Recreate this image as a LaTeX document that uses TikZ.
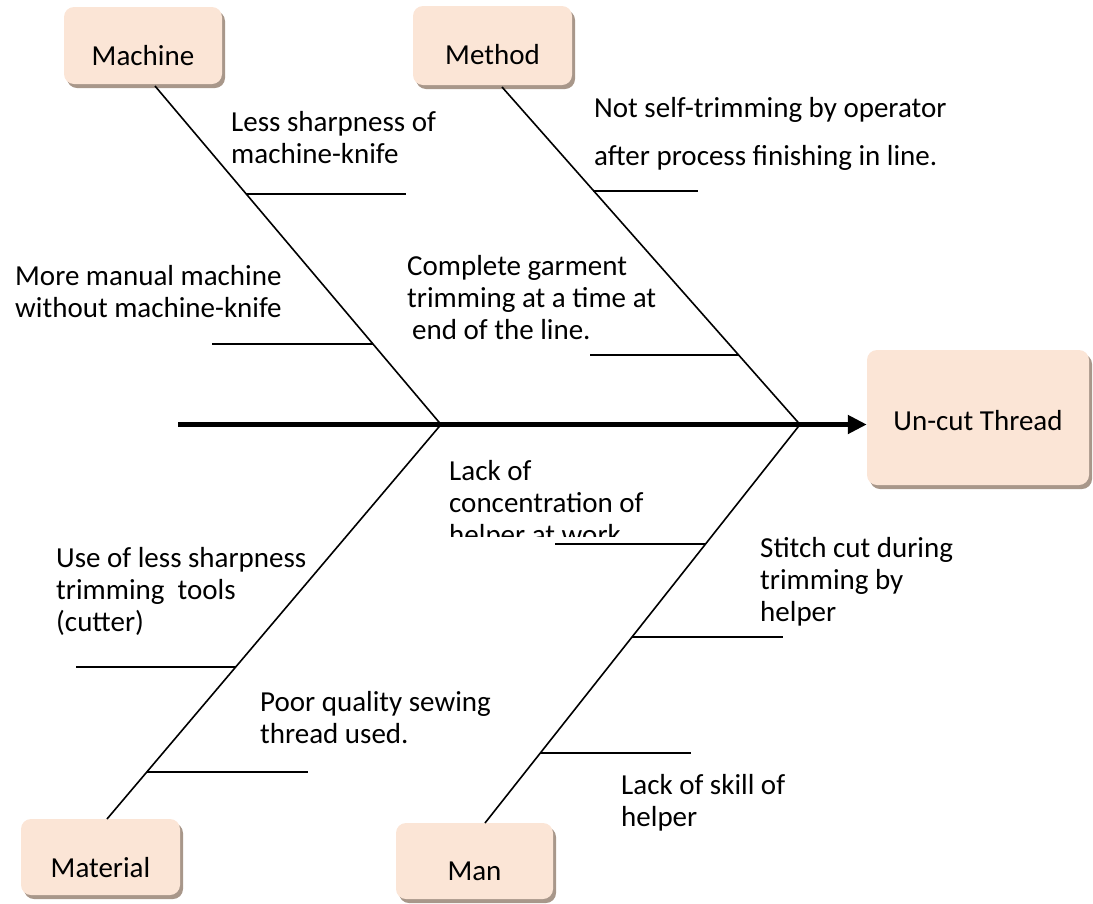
\documentclass[tikz,border=0pt]{standalone}
\usepackage{fontspec}
\setmainfont{Carlito}
\usetikzlibrary{arrows.meta,shadows}
\definecolor{boxfill}{HTML}{FBE5D6}
\definecolor{boxshade}{HTML}{A8978A}
% left-aligned multi-line cell whose baseline is the first line
\newcommand\cell[1]{\begin{tabular}[t]{@{}l@{}}#1\end{tabular}}

\begin{document}
\begin{tikzpicture}[x=1pt,y=-1pt,
  every node/.style={font=\fontsize{29}{32}\selectfont},
  catbox/.style={fill=boxfill, rounded corners=10pt, inner sep=0pt,
    drop shadow={shadow xshift=3pt, shadow yshift=-4pt, fill=boxshade, opacity=1}},
  bone/.style={line width=1.6pt},
  rib/.style={line width=1.8pt},
  cause/.style={anchor=base west, inner sep=0pt},
]
\useasboundingbox (0,0) rectangle (1093,903);

% category boxes and effect
\node[catbox, minimum width=158pt, minimum height=77pt, text height=40pt, text depth=1pt] (machine) at (143,45.5) {Machine};
\node[catbox, minimum width=159pt, minimum height=79pt, text height=38pt, text depth=1pt] (method) at (492.5,45.5) {Method};
\node[catbox, minimum width=159pt, minimum height=76pt, text height=41pt, text depth=1pt] (material) at (100.5,857) {Material};
\node[catbox, minimum width=157pt, minimum height=76pt, text height=39pt, text depth=1pt] (man) at (474.5,861) {Man};
\node[catbox, minimum width=222pt, minimum height=135pt, text height=26pt, text depth=1pt] (uncut) at (978,417.5) {Un-cut Thread};

% spine
\coordinate (tail) at (178,424.5);
\draw[line width=5pt, -{Triangle[length=19pt,width=18pt]}] (tail) -- (tail -| uncut.west);

% main bones
\coordinate (j1) at (441,424.5);
\coordinate (j2) at (800,424.5);
\coordinate (machtop) at (155,86);
\coordinate (methtop) at (502,87);
\coordinate (matbot) at (107,819);
\coordinate (manbot) at (485,823);
\draw[bone] (machtop) -- (j1);
\draw[bone] (methtop) -- (j2);
\draw[bone] (j1) -- (matbot);
\draw[bone] (j2) -- (manbot);

% ribs
\coordinate (ma1) at (246,194); \coordinate (ma1e) at (406,194);
\coordinate (ma2) at (373,344); \coordinate (ma2e) at (212,344);
\coordinate (me1) at (593,191); \coordinate (me1e) at (698,191);
\coordinate (me2) at (738,355); \coordinate (me2e) at (590,355);
\coordinate (mt1) at (236,667); \coordinate (mt1e) at (76,667);
\coordinate (mt2) at (147,772); \coordinate (mt2e) at (308,772);
\coordinate (mn1) at (706,544); \coordinate (mn1e) at (555,544);
\coordinate (mn2) at (632,637); \coordinate (mn2e) at (783,637);
\coordinate (mn3) at (540,753); \coordinate (mn3e) at (691,753);
\foreach \r in {ma1,ma2,me1,me2,mt1,mt2,mn1,mn2,mn3}
  \draw[rib] (\r) -- (\r e);

% causes
\node[cause] (c1) at (231,131) {\cell{Less sharpness of\\machine-knife}};
\node[cause] (c2) at (594,117) {\cell{Not self-trimming by operator\\[16pt]after process finishing in line.}};
\node[cause] (c3) at (15,285) {\cell{More manual machine\\without machine-knife}};
\node[cause] (c4) at (407,275) {\cell{Complete garment\\trimming at a time at\\\hspace*{5pt}end of the line.}};
\begin{scope}
  \clip (440,440) rectangle (720,536);
  \node[cause] (c5) at (449,480) {\cell{Lack of\\concentration of\\helper at work}};
\end{scope}
\node[cause] (c6) at (56,567) {\cell{Use of less sharpness\\trimming~ tools\\(cutter)}};
\node[cause] (c7) at (760,557) {\cell{Stitch cut during\\trimming by\\helper}};
\node[cause] (c8) at (260,711) {\cell{Poor quality sewing\\thread used.}};
\node[cause] (c9) at (621,794) {\cell{Lack of skill of\\helper}};
\end{tikzpicture}
\end{document}
